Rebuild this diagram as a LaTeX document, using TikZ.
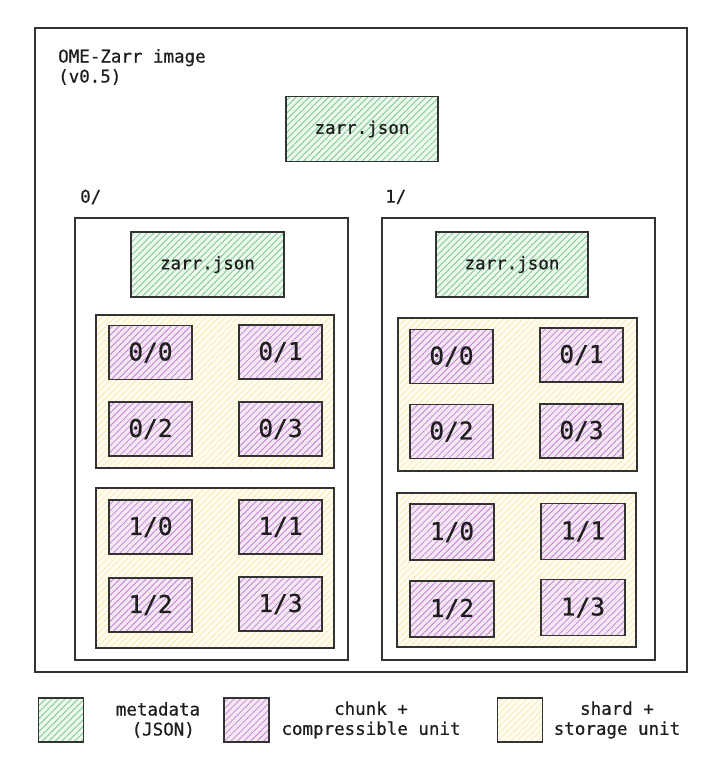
\documentclass[tikz,border=0pt]{standalone}
\usepackage{fontspec}
\newfontfamily\monof[FakeBold=0.6]{DejaVu Sans Mono}
\usetikzlibrary{patterns.meta}
\definecolor{linec}{HTML}{333333}
\definecolor{textc}{HTML}{1E1E1E}
\definecolor{metafill}{HTML}{EDF8EF}
\definecolor{metaline}{HTML}{7ECB8C}
\definecolor{chunkfill}{HTML}{F5E8F2}
\definecolor{chunkline}{HTML}{C283D6}
\definecolor{shardfill}{HTML}{FFFDF0}
\definecolor{shardline}{HTML}{F9E8B0}
\tikzset{
  frame/.style={draw=linec, line width=1.2pt},
  box/.style={draw=linec, line width=1.2pt, inner sep=0pt, text=textc,
     font=\monof\fontsize{17.5}{20}\selectfont},
  hatch/.style={pattern={Lines[angle=45,distance=4.6pt,line width=0.8pt]}},
  meta/.style={box, preaction={fill=metafill}, hatch, pattern color=metaline,
     minimum width=152pt, minimum height=65pt},
  chunk/.style={box, preaction={fill=chunkfill}, hatch, pattern color=chunkline,
     minimum width=83pt, minimum height=54pt, font=\monof\fontsize{24.5}{28}\selectfont},
  shard/.style={box, preaction={fill=shardfill}, hatch, pattern color=shardline},
  lbl/.style={inner sep=0pt, text=textc, font=\monof\fontsize{17.5}{20}\selectfont},
  legbox/.style={box, minimum width=45pt, minimum height=44pt},
}
\begin{document}
\begin{tikzpicture}[x=1pt,y=-1pt]
\useasboundingbox (0,0) rectangle (720,764);
\fill[white] (0,0) rectangle (720,764);
% outer frame
\draw[frame] (35,28) rectangle (687,672);
\node[lbl, anchor=north west, align=left] (title) at (58,49) {OME-Zarr image\\(v0.5)};
\node[meta] (topjson) at (362,129) {zarr.json};
% labels
\node[lbl, anchor=west] (l0) at (80,197) {0/};
\node[lbl, anchor=west] (l1) at (385,197) {1/};
% panels
\draw[frame] (75,218) rectangle (348,660);
\draw[frame] (382,218) rectangle (655,660);
\node[meta, minimum width=153pt] (ljson) at (207.5,264.5) {zarr.json};
\node[meta] (rjson) at (512,264.5) {zarr.json};
% shards
\draw[shard] (96,315) rectangle (334,468);
\draw[shard] (96,488) rectangle (334,648);
\draw[shard] (398,318) rectangle (637,471);
\draw[shard] (397,493) rectangle (636,647);
% chunks left
\node[chunk] (la0) at (150.5,352.5) {0/0};
\node[chunk] (la1) at (280.5,352) {0/1};
\node[chunk] (la2) at (150.5,429) {0/2};
\node[chunk] (la3) at (280.5,429) {0/3};
\node[chunk] (lb0) at (150.5,527) {1/0};
\node[chunk] (lb1) at (280.5,527) {1/1};
\node[chunk] (lb2) at (150.5,605) {1/2};
\node[chunk] (lb3) at (280.5,604) {1/3};
% chunks right
\node[chunk] (ra0) at (451.5,356.5) {0/0};
\node[chunk] (ra1) at (581.5,355) {0/1};
\node[chunk] (ra2) at (451.5,431.5) {0/2};
\node[chunk] (ra3) at (581.5,431) {0/3};
\node[chunk, minimum width=84pt, minimum height=56pt] (rb0) at (452,532) {1/0};
\node[chunk, minimum width=84pt, minimum height=56pt] (rb1) at (583,531.5) {1/1};
\node[chunk, minimum width=84pt, minimum height=56pt] (rb2) at (452,609) {1/2};
\node[chunk, minimum width=84pt, minimum height=56pt] (rb3) at (583,607.5) {1/3};
% legend
\node[legbox, preaction={fill=metafill}, hatch, pattern color=metaline] (gmeta) at (61,720) {};
\node[lbl, align=center] (tmeta) at (158,720) {metadata\\\hspace*{0.6em}(JSON)};
\node[legbox, preaction={fill=chunkfill}, hatch, pattern color=chunkline] (gchunk) at (246.5,720) {};
\node[lbl, align=center] (tchunk) at (371,720) {chunk +\\compressible unit};
\node[legbox, preaction={fill=shardfill}, hatch, pattern color=shardline] (gshard) at (520,720) {};
\node[lbl, align=center] (tshard) at (617,720) {shard +\\storage unit};
\end{tikzpicture}
\end{document}
